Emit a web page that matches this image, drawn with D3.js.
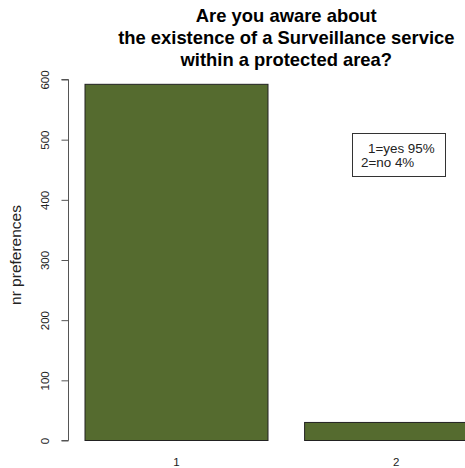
<!DOCTYPE html>
<html><head><meta charset="utf-8">
<script src="https://cdn.jsdelivr.net/npm/d3@7"></script>
<style>body{margin:0;background:#fff}svg{display:block}text{font-family:"Liberation Sans",Arial,sans-serif}</style>
</head><body>
<script>
const categories = ["1", "2"];
const values = [592, 30];
const yTicks = [0, 100, 200, 300, 400, 500, 600];
const titleLines = ["Are you aware about", "the existence of a Surveillance service", "within a protected area?"];
const legendLines = ["1=yes 95%", "2=no 4%"];
const yLabel = "nr preferences";

const W = 465, H = 468;
const svg = d3.select("body").append("svg").attr("width", W).attr("height", H);

// R barplot geometry: width 1, space 0.2
const barLeft = categories.map((c, i) => 0.2 + i * 1.2);
const x = d3.scaleLinear().domain([0.112, 2.488]).range([68.9, 503.7]);
const y = d3.scaleLinear().domain([0, 600]).range([440.5, 79.5]);

svg.selectAll("rect.bar").data(values).join("rect")
  .attr("x", (d, i) => x(barLeft[i]))
  .attr("width", (d, i) => x(barLeft[i] + 1) - x(barLeft[i]))
  .attr("y", d => y(d))
  .attr("height", d => y(0) - y(d))
  .attr("fill", "#556B2F").attr("stroke", "#222").attr("stroke-width", 1);

const yAxis = d3.axisLeft(y).tickValues(yTicks).tickSize(7).tickFormat(d3.format("d"));
const gy = svg.append("g").attr("transform", "translate(68.5,0)").call(yAxis);
gy.select(".domain").attr("stroke", "#555").attr("d", `M-7,${y(600)}H0V${y(0)}H-7`);
gy.selectAll(".tick line").attr("stroke", "#555");
gy.selectAll(".tick text").attr("font-size", 11.5).attr("fill", "#222")
  .attr("x", 0).attr("dy", 0)
  .attr("transform", d => `translate(-24,0) rotate(-90)`)
  .attr("text-anchor", "middle").attr("dominant-baseline", "central");

svg.append("text").attr("transform", "translate(21,255) rotate(-90)")
  .attr("text-anchor", "middle").attr("font-size", 15.5).attr("fill", "#222").text(yLabel);

svg.selectAll("text.xl").data(categories).join("text").attr("class", "xl")
  .attr("x", (d, i) => x(barLeft[i] + 0.5)).attr("y", 466)
  .attr("text-anchor", "middle").attr("font-size", 11.5).attr("fill", "#222").text(d => d);

const titleX = (x(0.112) + x(2.488)) / 2;
svg.selectAll("text.title").data(titleLines).join("text").attr("class", "title")
  .attr("x", titleX).attr("y", (d, i) => 21.5 + i * 22)
  .attr("text-anchor", "middle").attr("font-size", 18.4).attr("font-weight", "bold").attr("fill", "#000")
  .text(d => d);

svg.append("rect").attr("x", 352.5).attr("y", 133.5).attr("width", 93).attr("height", 43)
  .attr("fill", "#fff").attr("stroke", "#333");
svg.selectAll("text.leg").data(legendLines).join("text").attr("class", "leg")
  .attr("x", (d, i) => i === 0 ? 368 : 361).attr("y", (d, i) => 153 + i * 14)
  .attr("font-size", 13.4).attr("fill", "#222").text(d => d);
</script>
</body></html>
